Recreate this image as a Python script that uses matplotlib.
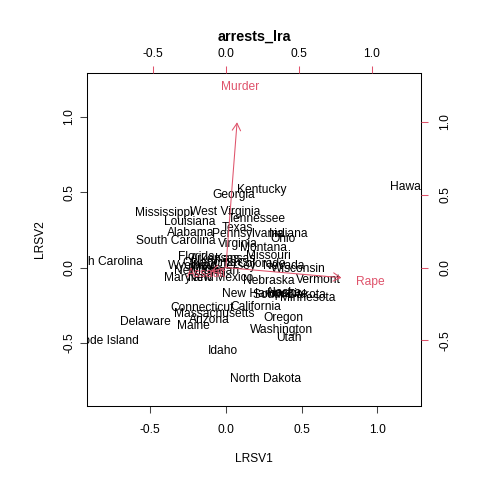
import matplotlib
matplotlib.use('Agg')
import matplotlib.pyplot as plt
from matplotlib.transforms import offset_copy

# log-ratio biplot of USArrests

states = ['Alabama', 'Alaska', 'Arizona', 'Arkansas', 'California', 'Colorado',
          'Connecticut', 'Delaware', 'Florida', 'Georgia', 'Hawaii', 'Idaho',
          'Illinois', 'Indiana', 'Iowa', 'Kansas', 'Kentucky', 'Louisiana',
          'Maine', 'Maryland', 'Massachusetts', 'Michigan', 'Minnesota',
          'Mississippi', 'Missouri', 'Montana', 'Nebraska', 'Nevada',
          'New Hampshire', 'New Jersey', 'New Mexico', 'New York',
          'North Carolina', 'North Dakota', 'Ohio', 'Oklahoma', 'Oregon',
          'Pennsylvania', 'Rhode Island', 'South Carolina', 'South Dakota',
          'Tennessee', 'Texas', 'Utah', 'Vermont', 'Virginia', 'Washington',
          'West Virginia', 'Wisconsin', 'Wyoming']
lrsv1 = [-0.231, 0.383, -0.106, -0.073, 0.198, 0.238,
         -0.159, -0.529, -0.192, 0.053, 1.203, -0.020,
         -0.139, 0.416, 0.357, 0.059, 0.238, -0.238,
         -0.212, -0.245, -0.079, -0.073, 0.542,
         -0.410, 0.278, 0.251, 0.284, 0.383,
         0.258, -0.007, -0.033, -0.172,
         -0.806, 0.264, 0.377, -0.106, 0.383,
         0.145, -0.806, -0.330, 0.423,
         0.205, 0.079, 0.416, 0.608, 0.079, 0.370,
         -0.007, 0.476, -0.218]
lrsv2 = [0.238, -0.159, -0.337, 0.066, -0.251, 0.033,
         -0.258, -0.350, 0.079, 0.489, 0.542, -0.542,
         0.000, 0.231, -0.165, 0.066, 0.522, 0.311,
         -0.377, -0.059, -0.297, -0.013, -0.192,
         0.370, 0.086, 0.139, -0.079, 0.020,
         -0.165, 0.020, -0.059, -0.013,
         0.046, -0.727, 0.198, 0.040, -0.324,
         0.231, -0.476, 0.185, -0.172,
         0.330, 0.271, -0.456, -0.073, 0.165, -0.403,
         0.377, 0.000, 0.020]

variables = ['Murder', 'Assault', 'Rape']
var1 = [0.096, -0.130, 0.990]
var2 = [1.247, -0.034, -0.087]

RED = '#DF536B'
FS = 8.64
plt.rcParams['font.family'] = ['Liberation Sans', 'DejaVu Sans']

lim = (-0.917, 1.289)
k = 1.0363  # ratio between the two scales
lim2 = (lim[0] * k, lim[1] * k)

fig = plt.figure(figsize=(4.8, 4.8), dpi=100, facecolor='white')
pos = [87 / 480, 74 / 480, 334 / 480, 333 / 480]
ax = fig.add_axes(pos)
ax.set_xlim(lim)
ax.set_ylim(lim)

# R centres text a little lower than va='center'
txt_tr = offset_copy(ax.transData, fig=fig, y=-1.5, units='dots')
for name, x, y in zip(states, lrsv1, lrsv2):
    ax.text(x, y, name, fontsize=FS, ha='center', va='center', color='black',
            clip_on=True, transform=txt_tr)

ax.set_xticks([-0.5, 0.0, 0.5, 1.0])
ax.set_yticks([-0.5, 0.0, 0.5, 1.0])
ax.set_xticklabels(['-0.5', '0.0', '0.5', '1.0'])
ax.set_yticklabels(['-0.5', '0.0', '0.5', '1.0'], rotation=90, va='center')
ax.tick_params(axis='x', length=5, width=0.75, pad=8, labelsize=FS, color='#444444')
ax.tick_params(axis='y', length=5, width=0.75, pad=3.5, labelsize=FS, color='#444444')
ax.set_xlabel('LRSV1', fontsize=FS, labelpad=12)
ax.set_ylabel('LRSV2', fontsize=FS, labelpad=12.5)
for s in ax.spines.values():
    s.set_linewidth(0.75)

# variable scale on top / right
ax2 = fig.add_axes(pos, frameon=False)
ax2.patch.set_visible(False)
ax2.set_xlim(lim2)
ax2.set_ylim(lim2)
ax2.xaxis.tick_top()
ax2.yaxis.tick_right()
ax2.set_xticks([-0.5, 0.0, 0.5, 1.0])
ax2.set_yticks([-0.5, 0.0, 0.5, 1.0])
ax2.set_xticklabels(['-0.5', '0.0', '0.5', '1.0'])
ax2.set_yticklabels(['-0.5', '0.0', '0.5', '1.0'], rotation=90, va='center')
ax2.tick_params(axis='x', length=5, width=0.75, pad=4.5, labelsize=FS, color=RED)
ax2.tick_params(axis='y', length=5, width=0.75, pad=8, labelsize=FS, color=RED)
ax2.spines['right'].set_visible(True)
ax2.spines['right'].set_color(RED)
ax2.spines['right'].set_alpha(0.5)
ax2.spines['right'].set_linewidth(0.75)

var_tr = offset_copy(ax2.transData, fig=fig, y=-1.5, units='dots')
for name, x, y in zip(variables, var1, var2):
    ax2.annotate('', xy=(0.8 * x, 0.8 * y), xytext=(0, 0),
                 arrowprops=dict(arrowstyle='->,head_length=0.52,head_width=0.3',
                                 color=RED, lw=0.75, shrinkA=0, shrinkB=0))
    ax2.text(x, y, name, fontsize=FS, ha='center', va='center', color=RED,
             transform=var_tr)

fig.text(254 / 480, 1 - 37 / 480, 'arrests_lra', fontsize=10.4, fontweight='bold',
         ha='center', va='center')

fig.savefig('out.png', dpi=100)
